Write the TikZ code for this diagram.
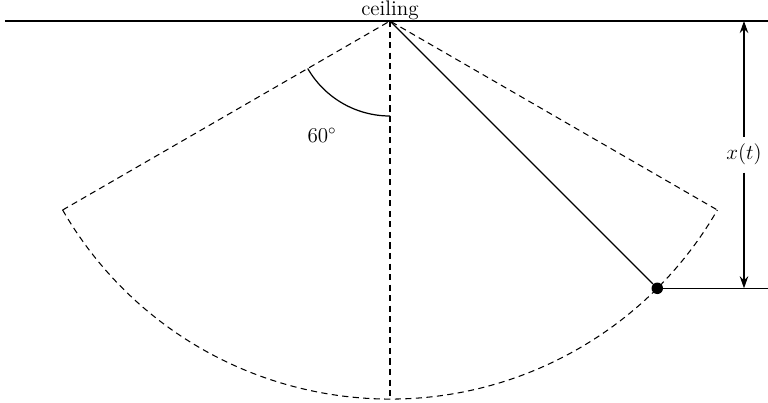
\documentclass[tikz,border=0pt]{standalone}
\usetikzlibrary{arrows.meta,positioning,calc}

\begin{document}
\begin{tikzpicture}[font=\large,swing/.style={dash pattern=on 3.5pt off 2.5pt,line width=.6pt},rod/.style={line width=.7pt},dim/.style={-{Stealth[length=2.4mm,width=1.7mm]},line width=.7pt},bobdot/.style={circle,fill=black,inner sep=0pt,minimum size=2.3mm}]
 \useasboundingbox (-7.8,.42) rectangle (7.56,-7.62);
 \coordinate (O) at (0,0);
 \coordinate (left) at (210:7.56); \coordinate (right) at (330:7.56); \coordinate (low) at (270:7.56);
 \node[bobdot] (bob) at (315:7.56) {};
 \draw[line width=.9pt] (-7.7,0)--(7.56,0);
 \node[anchor=base] (ceil) at (0,.12) {ceiling};
 \draw[swing] (left)--(O)--(right);
 \draw[swing] (O)--(low);
 \draw[swing] (left) arc[start angle=210,end angle=330,radius=7.56];
 \draw[rod] (O)--(bob);
 \draw[rod] (O) ++(210:1.9) arc[start angle=210,end angle=270,radius=1.9];
 \node (ang) at (-1.36,-2.28) {$60^\circ$};
 \draw[line width=.9pt] (bob.east)--(7.56,0 |- bob);
 \coordinate (top) at (7.08,0); \coordinate (bot) at (7.08,0 |- bob);
 \node[inner sep=4pt] (xt) at ($(top)!.5!(bot)$) {$x(t)$};
 \draw[dim] (xt)--(top); \draw[dim] (xt)--(bot);
\end{tikzpicture}
\end{document}
